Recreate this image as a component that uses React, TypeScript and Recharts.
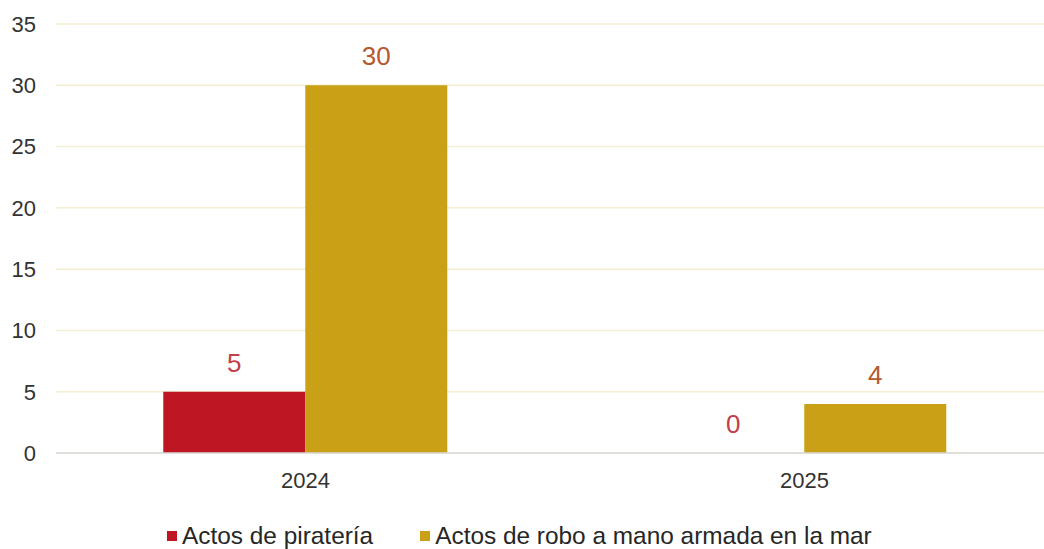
import React from "react";
import { BarChart, Bar, XAxis, YAxis, CartesianGrid, Legend, LabelList, Rectangle } from "recharts";

const categories = ["2024", "2025"];
const pirateria = [5, 0];
const roboArmado = [30, 4];
const yTicks = [0, 5, 10, 15, 20, 25, 30, 35];

const seriesNames = ["Actos de piratería", "Actos de robo a mano armada en la mar"];
const seriesColors = ["#be1622", "#c9a016"];
const labelColors = ["#c23e4a", "#b4582e"];

const data = categories.map((c, i) => ({ year: c, pirateria: pirateria[i], robo: roboArmado[i] }));

const FONT = "'Liberation Sans', Arial, sans-serif";

const renderLegend = () => (
  <div style={{ height: 56, display: "flex", alignItems: "flex-end", paddingLeft: 167, fontFamily: FONT }}>
    {seriesNames.map((n, i) => (
      <div key={n} style={{ display: "flex", alignItems: "center", lineHeight: "26px", marginRight: 47 }}>
        <span style={{ display: "inline-block", width: 10, height: 10, background: seriesColors[i], marginRight: 5 }} />
        <span style={{ fontSize: 24.4, color: "#262626" }}>{n}</span>
      </div>
    ))}
  </div>
);

const makeLabel = (color: string) => (props: any) => {
  const { x, y, width, height, value } = props;
  if (x == null || y == null) return null;
  const top = Number(value) === 0 ? Number(y) + Number(height) : Number(y);
  return (
    <text
      x={Number(x) + Number(width) / 2}
      y={top - 20}
      textAnchor="middle"
      fontSize={26}
      fill={color}
      fontFamily={FONT}
    >
      {value}
    </text>
  );
};

const makeShape = (key: string) => (props: any) => {
  if (props?.payload && Number(props.payload[key]) === 0) return <g />;
  return <Rectangle {...props} />;
};

export default function App() {
  return (
    <div style={{ position: "absolute", left: 0, top: 0, width: 1044, height: 549, overflow: "hidden", background: "#fff" }}>
      <BarChart
        width={1054}
        height={549}
        data={data}
        margin={{ top: 24, right: 0, bottom: 0, left: 0 }}
        barCategoryGap="21.5%"
        barGap={0}
      >
        <CartesianGrid vertical={false} stroke="#f3eed2" strokeWidth={1.5} />
        <XAxis
          dataKey="year"
          height={40}
          tickLine={false}
          tickSize={0}
          tickMargin={19}
          axisLine={{ stroke: "#d9d9d9", strokeWidth: 1.5 }}
          tick={{ fontSize: 22, fill: "#333", fontFamily: FONT }}
        />
        <YAxis
          width={56}
          domain={[0, 35]}
          ticks={yTicks}
          interval={0}
          axisLine={false}
          tickLine={false}
          tickSize={0}
          tickMargin={20}
          tick={{ fontSize: 22, fill: "#333", fontFamily: FONT }}
        />
        <Legend verticalAlign="bottom" height={56} content={renderLegend} />
        <Bar
          dataKey="pirateria"
          name={seriesNames[0]}
          fill={seriesColors[0]}
          minPointSize={1}
          shape={makeShape("pirateria")}
          isAnimationActive={false}
        >
          <LabelList dataKey="pirateria" content={makeLabel(labelColors[0])} />
        </Bar>
        <Bar dataKey="robo" name={seriesNames[1]} fill={seriesColors[1]} isAnimationActive={false}>
          <LabelList dataKey="robo" content={makeLabel(labelColors[1])} />
        </Bar>
      </BarChart>
    </div>
  );
}
